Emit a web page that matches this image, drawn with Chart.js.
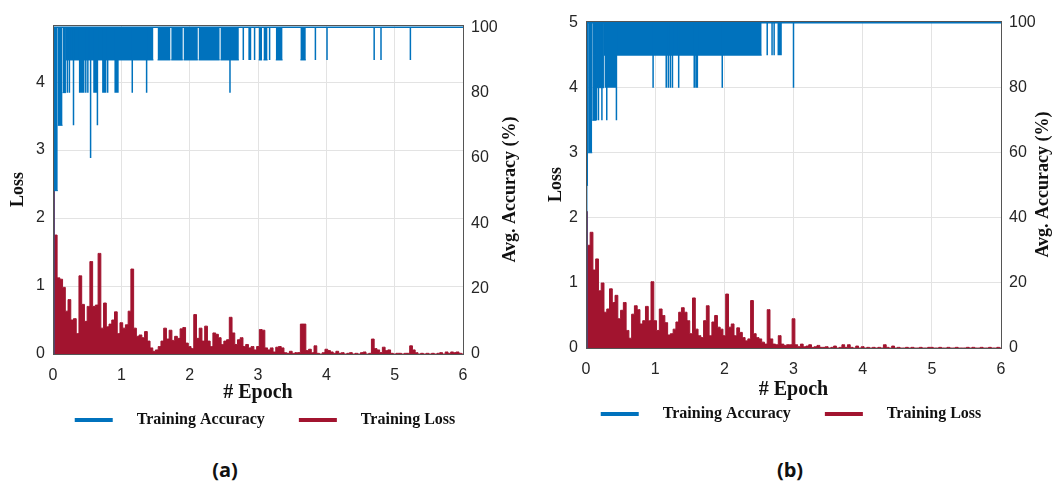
<!DOCTYPE html>
<html>
<head>
<meta charset="utf-8">
<script src="https://cdn.jsdelivr.net/npm/chart.js"></script>
<style>
  body { margin: 0; background: #fff; width: 1052px; height: 481px; position: relative; overflow: hidden; }
  canvas { position: absolute; top: 0; }
  #chartA { left: 0; }
  #chartB { left: 530px; }
  .cap { position: absolute; top: 456px; font: bold 20px "Open Sans", sans-serif; color: #111; transform: translateX(-50%); }
</style>
</head>
<body>
<canvas id="chartA" width="530" height="450"></canvas>
<canvas id="chartB" width="522" height="450"></canvas>
<div class="cap" style="left:225px">(a)</div>
<div class="cap" style="left:790px">(b)</div>
<script>
var LOSS_STEP = 0.04;

var lossA = [
  4.8, 1.75, 1.12, 1.1, 0.98, 0.63, 0.8, 0.5, 0.52, 0.3,
  1.15, 0.73, 0.48, 0.7, 1.36, 0.7, 0.72, 1.48, 0.38, 0.75,
  0.4, 0.44, 0.5, 0.62, 0.3, 0.46, 0.38, 0.43, 0.63, 1.25,
  0.38, 0.26, 0.28, 0.24, 0.33, 0.19, 0.09, 0.04, 0.06, 0.11,
  0.19, 0.38, 0.22, 0.35, 0.2, 0.26, 0.23, 0.37, 0.39, 0.16,
  0.11, 0.08, 0.58, 0.23, 0.38, 0.19, 0.41, 0.19, 0.11, 0.31,
  0.29, 0.24, 0.14, 0.19, 0.21, 0.54, 0.31, 0.14, 0.21, 0.24,
  0.11, 0.14, 0.09, 0.11, 0.06, 0.11, 0.36, 0.35, 0.09, 0.06,
  0.09, 0.03, 0.1, 0.11, 0.09, 0.02, 0.01, 0.04, 0.01, 0.02,
  0.02, 0.44, 0.44, 0.05, 0.07, 0.02, 0.12, 0.01, 0.0, 0.02,
  0.07, 0.05, 0.03, 0.01, 0.04, 0.01, 0.02, 0.0, 0.01, 0.02,
  0.0, 0.01, 0.0, 0.02, 0.03, 0.0, 0.01, 0.22, 0.08, 0.06,
  0.02, 0.1, 0.05, 0.06, 0.01, 0.0, 0.01, 0.01, 0.0, 0.01,
  0.01, 0.12, 0.06, 0.02, 0.0, 0.01, 0.0, 0.01, 0.0, 0.01,
  0.0, 0.01, 0.02, 0.0, 0.03, 0.01, 0.03, 0.02, 0.03, 0.01, 0.0
];

var lossB = [
  2.1, 1.58, 1.78, 1.2, 1.37, 0.88, 1.0, 0.55, 0.6, 0.91,
  0.7, 0.81, 0.45, 0.58, 0.7, 0.27, 0.15, 0.52, 0.65, 0.59,
  0.37, 0.42, 0.64, 0.42, 1.02, 0.42, 0.27, 0.6, 0.5, 0.39,
  0.2, 0.22, 0.29, 0.4, 0.55, 0.62, 0.55, 0.42, 0.22, 0.77,
  0.29, 0.19, 0.16, 0.42, 0.65, 0.19, 0.4, 0.5, 0.32, 0.29,
  0.19, 0.83, 0.32, 0.37, 0.19, 0.31, 0.24, 0.16, 0.11, 0.14,
  0.73, 0.22, 0.16, 0.14, 0.09, 0.06, 0.59, 0.14, 0.06, 0.05,
  0.19, 0.06, 0.04, 0.05, 0.05, 0.45, 0.05, 0.02, 0.06, 0.02,
  0.03, 0.05, 0.01, 0.02, 0.04, 0.01, 0.01, 0.02, 0.0, 0.01,
  0.03, 0.0, 0.01, 0.05, 0.01, 0.05, 0.01, 0.0, 0.03, 0.0,
  0.02, 0.0, 0.01, 0.0, 0.01, 0.0, 0.01, 0.0, 0.05, 0.01,
  0.0, 0.03, 0.0, 0.01, 0.0, 0.0, 0.01, 0.0, 0.01, 0.0,
  0.0, 0.01, 0.0, 0.0, 0.01, 0.01, 0.0, 0.0, 0.01, 0.0,
  0.0, 0.01, 0.0, 0.0, 0.01, 0.0, 0.0, 0.0, 0.01, 0.0,
  0.01, 0.0, 0.0, 0.01, 0.0, 0.0, 0.01, 0.0, 0.0, 0.01, 0.0
];

// accuracy: start of the curve, dense stretches [from, to, low] and single drops [epoch, low]
var accStartA = [[0, 0], [0.01, 100]];
var accBandsA = [
  [0.01, 0.07, 50], [0.07, 0.14, 70], [0.14, 0.19, 80], [0.19, 1.47, 90],
  [1.53, 1.72, 90], [1.73, 1.90, 90], [1.91, 2.12, 90], [2.13, 2.44, 90], [2.45, 2.72, 90],
  [3.01, 3.06, 90], [3.08, 3.14, 90], [3.26, 3.36, 90], [3.62, 3.70, 90]
];
var accDipsA = [
  [0.21, 80], [0.24, 80], [0.30, 70], [0.39, 80], [0.41, 80], [0.43, 80], [0.45, 80],
  [0.48, 80], [0.51, 80], [0.55, 60], [0.60, 80], [0.62, 80], [0.64, 80], [0.65, 70],
  [0.73, 80], [0.75, 80], [0.77, 80], [0.80, 80], [0.91, 80], [0.93, 80], [0.95, 80],
  [1.16, 80], [1.37, 80], [2.59, 80],
  [2.785, 90], [2.87, 90], [2.89, 90], [2.95, 90], [3.17, 90], [3.84, 90], [4.01, 90],
  [4.70, 90], [4.80, 90], [5.23, 90]
];

var accStartB = [[0, 0], [0.01, 100]];
var accBandsB = [
  [0.01, 0.03, 50], [0.03, 0.09, 60], [0.09, 0.15, 70], [0.15, 0.26, 80], [0.26, 2.54, 90]
];
var accDipsB = [
  [0.11, 70], [0.15, 70], [0.18, 70], [0.23, 70], [0.30, 70], [0.44, 70],
  [0.28, 80], [0.32, 80], [0.34, 80], [0.36, 80], [0.38, 80], [0.40, 80], [0.42, 80],
  [0.97, 80], [1.16, 80], [1.19, 80], [1.22, 80], [1.25, 80], [1.34, 80],
  [1.565, 80], [1.59, 80], [1.61, 80], [1.97, 80], [3.0, 80],
  [2.62, 90], [2.69, 90], [2.72, 90], [2.78, 90], [2.80, 90], [2.82, 90]
];

var epochMax = 6;
var seriesNames = ['Training Accuracy', 'Training Loss'];
var BLUE = '#0072BD';
var RED = '#A2142F';
var INK = '#262626';

function accLinePoints(start, dips) {
  var pts = start.map(function(p) { return {x: p[0], y: p[1]}; });
  dips.slice().sort(function(a, b) { return a[0] - b[0]; }).forEach(function(d) {
    pts.push({x: d[0], y: 100}, {x: d[0], y: d[1]}, {x: d[0], y: 100});
  });
  pts.push({x: epochMax, y: 100});
  return pts;
}

function bandPoints(bands) {
  var pts = [];
  bands.forEach(function(b) {
    pts.push({x: b[0], y: b[2]}, {x: b[1], y: b[2]}, {x: b[1], y: null});
  });
  return pts;
}

var framePlugin = {
  id: 'frame',
  afterDatasetsDraw: function(chart) {
    var a = chart.chartArea, ctx = chart.ctx;
    ctx.save();
    ctx.strokeStyle = '#555';
    ctx.lineWidth = 1;
    ctx.strokeRect(Math.round(a.left) + 0.5, Math.round(a.top) + 0.5,
      Math.round(a.right - a.left), Math.round(a.bottom - a.top));
    ctx.restore();
  }
};

var rightTitlePlugin = {
  id: 'rightTitle',
  afterDraw: function(chart, args, opts) {
    var a = chart.chartArea, ctx = chart.ctx;
    ctx.save();
    ctx.translate(opts.x, (a.top + a.bottom) / 2);
    ctx.rotate(-Math.PI / 2);
    ctx.font = 'bold 18px "Liberation Serif", serif';
    ctx.fillStyle = '#111';
    ctx.textAlign = 'center';
    ctx.textBaseline = 'middle';
    ctx.fillText(opts.text, 0, 0);
    ctx.restore();
  }
};

function makeChart(id, loss, start, bands, dips, g) {
  var lossPts = loss.map(function(v, i) { return {x: i * LOSS_STEP, y: v}; });
  var tickFont = {family: '"Liberation Sans", Arial, sans-serif', size: 16};
  return new Chart(document.getElementById(id), {
    type: 'line',
    data: {
      datasets: [
        {
          label: seriesNames[0],
          data: accLinePoints(start, dips),
          yAxisID: 'y1',
          borderColor: BLUE,
          backgroundColor: BLUE,
          borderWidth: 1.5,
          pointRadius: 0,
          fill: false
        },
        {
          label: 'band',
          legendHide: true,
          data: bandPoints(bands),
          yAxisID: 'y1',
          borderColor: BLUE,
          backgroundColor: BLUE,
          borderWidth: 1,
          pointRadius: 0,
          fill: {value: 100}
        },
        {
          label: seriesNames[1],
          data: lossPts,
          yAxisID: 'y',
          borderColor: RED,
          backgroundColor: RED,
          borderWidth: 1,
          pointRadius: 0,
          stepped: 'middle',
          fill: 'origin'
        }
      ]
    },
    options: {
      responsive: false,
      animation: false,
      devicePixelRatio: 1,
      layout: {padding: {top: g.top, bottom: g.bottom, left: 0, right: 0}},
      scales: {
        x: {
          type: 'linear', min: 0, max: epochMax,
          ticks: {stepSize: 1, padding: 12, color: INK, font: tickFont},
          grid: {color: '#e3e3e3', drawTicks: false},
          border: {color: '#555'},
          title: {display: true, text: '# Epoch', color: '#111', padding: 0,
            font: {family: '"Liberation Serif", serif', size: 20, weight: 'bold', lineHeight: g.xTitleLH}},
          afterFit: function(s) { s.height = g.xH; }
        },
        y: {
          position: 'left', min: 0, max: g.lossMax,
          ticks: {stepSize: 1, includeBounds: false, padding: 8, color: INK, font: tickFont},
          grid: {color: '#e3e3e3', drawTicks: false},
          border: {color: '#555'},
          title: {display: true, text: 'Loss', color: '#111', padding: {top: g.lossPad, bottom: 0},
            font: {family: '"Liberation Serif", serif', size: 18, weight: 'bold'}},
          afterFit: function(s) { s.width = g.leftW; }
        },
        y1: {
          position: 'right', min: 0, max: g.accMax,
          ticks: {stepSize: 20, includeBounds: false, padding: 8, color: INK, font: tickFont},
          grid: {drawOnChartArea: false, drawTicks: false},
          border: {color: '#555'},
          afterFit: function(s) { s.width = g.rightW; }
        }
      },
      plugins: {
        legend: {
          position: 'bottom',
          labels: {
            boxWidth: 38, boxHeight: 4, padding: 10, color: '#111',
            font: {family: '"Liberation Serif", serif', size: 16, weight: 'bold'},
            filter: function(item, data) { return !data.datasets[item.datasetIndex].legendHide; },
            generateLabels: function(chart) {
              var items = Chart.defaults.plugins.legend.labels.generateLabels(chart);
              items.forEach(function(it) {
                it.lineWidth = 0;
                it.text = '    ' + it.text + (it.datasetIndex === 0 ? '      ' : '');
              });
              return items;
            }
          }
        },
        tooltip: {enabled: false},
        rightTitle: {text: 'Avg. Accuracy (%)', x: g.rightTitleX}
      }
    },
    plugins: [framePlugin, rightTitlePlugin]
  });
}

makeChart('chartA', lossA, accStartA, accBandsA, accDipsA, {
  top: 25, bottom: 12, xH: 48, leftW: 53, rightW: 67, xTitleLH: 0.9,
  lossMax: 4.84, accMax: 100.7, lossPad: 8, rightTitleX: 510
});
makeChart('chartB', lossB, accStartB, accBandsB, accDipsB, {
  top: 21, bottom: 18, xH: 48, leftW: 56, rightW: 51, xTitleLH: 0.6,
  lossMax: 5.03, accMax: 100.5, lossPad: 16, rightTitleX: 513
});
</script>
</body>
</html>
